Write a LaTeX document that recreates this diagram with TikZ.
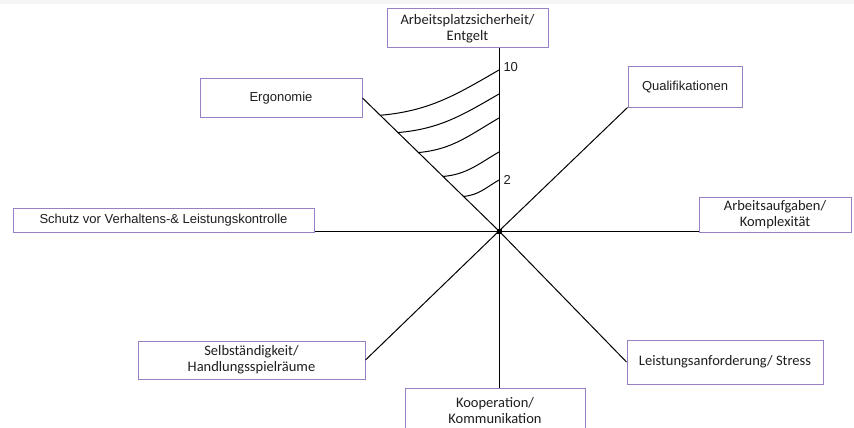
\documentclass[tikz,border=0pt]{standalone}
\usepackage{fontspec}
\setmainfont{Liberation Sans}
\newfontfamily\calfont{Carlito}
\usetikzlibrary{calc}
\definecolor{boxline}{RGB}{152,128,196}
\definecolor{txt}{RGB}{30,30,30}

\begin{document}
\begin{tikzpicture}[x=1pt,y=1pt,line width=1pt,
  box/.style={draw=boxline,line width=1pt,text=txt,align=center,inner sep=0pt},
  lbl/.style={font=\fontsize{13}{15}\selectfont},
  clbl/.style={font=\calfont\fontsize{14.5}{16}\selectfont}]
  \clip (0,0) rectangle (854,-428);
  \fill[white] (0,0) rectangle (854,-428);
  \fill[gray!8] (0,0) rectangle (854,-4);

  \coordinate (c) at (499,-231);
  \node[box,clbl,minimum width=161pt,minimum height=39pt] (top) at (467.5,-28.5) {Arbeitsplatzsicherheit/\\Entgelt};
  \node[box,lbl,minimum width=162pt,minimum height=38pt] (ergo) at (281,-98) {Ergonomie};
  \node[box,lbl,minimum width=114pt,minimum height=40pt] (qual) at (685,-87) {Qualifikationen};
  \node[box,lbl,minimum width=301pt,minimum height=24pt] (schutz) at (163.5,-220) {Schutz vor Verhaltens-\& Leistungskontrolle};
  \node[box,clbl,minimum width=152pt,minimum height=35pt] (aufg) at (775,-214.5) {Arbeitsaufgaben/\\Komplexität};
  \node[box,clbl,minimum width=227pt,minimum height=38pt] (selb) at (251.5,-360) {Selbständigkeit/\\Handlungsspielräume};
  \node[box,clbl,minimum width=180pt,minimum height=46pt] (koop) at (495,-411) {Kooperation/\\Kommunikation};
  \node[box,clbl,minimum width=196pt,minimum height=44pt] (leist) at (725,-362) {Leistungsanforderung/ Stress};

  % axes
  \draw (c) -- (c |- top.south);
  \draw (c) -- (c |- koop.north);
  \draw (c) -- (c -| schutz.east);
  \draw (c) -- (c -| aufg.west);
  \draw (c) -- (ergo.east);
  \draw (c) -- (qual.south west);
  \draw (c) -- (selb.east);
  \draw (c) -- (leist.west);
  \fill (c) +(-2.5,-2.5) rectangle +(2.5,2.5);

  % scale arcs
  \foreach \t/\r in {0.87/161,0.74/137,0.59/113,0.41/79,0.26/51}
    \draw ($(c)!\t!(ergo.east)$) to[out=5,in=210] ($(c)+(0,\r)$);
  \node[lbl,text=txt,inner sep=0pt,anchor=west] (n10) at ($(c)+(4,164)$) {10};
  \node[lbl,text=txt,inner sep=0pt,anchor=west] (n2) at ($(c)+(4,51)$) {2};
\end{tikzpicture}
\end{document}
